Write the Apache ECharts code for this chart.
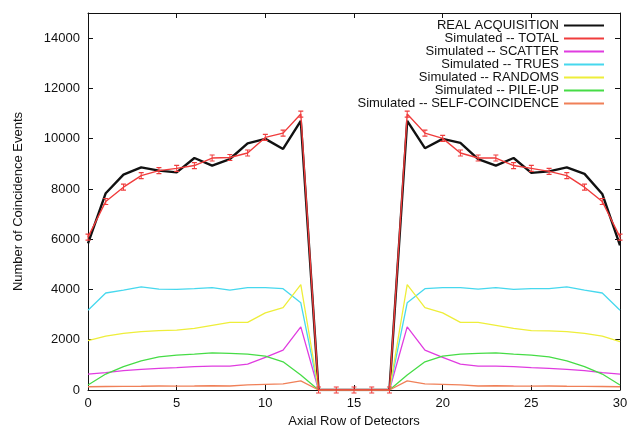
<!DOCTYPE html>
<html>
<head>
<meta charset="utf-8">
<script src="https://cdn.jsdelivr.net/npm/echarts@6/dist/echarts.min.js"></script>
<style>
html,body{margin:0;padding:0;background:#fff;}
#chart{width:631px;height:427px;}
</style>
</head>
<body>
<div id="chart"></div>
<script>
var axialRows = [0,1,2,3,4,5,6,7,8,9,10,11,12,13,14,15,16,17,18,19,20,21,22,23,24,25,26,27,28,29,30];
var realAcquisition = [5830,7830,8570,8860,8730,8660,9230,8930,9190,9810,9990,9590,10710,0,0,0,0,0,10710,9620,9990,9830,9190,8930,9230,8640,8700,8860,8600,7800,5750];
var simTotal = [6085,7500,8070,8530,8730,8820,8930,9230,9250,9430,10050,10220,10980,0,0,0,0,0,10980,10220,10010,9430,9230,9230,8930,8820,8700,8530,8070,7500,6085];
var simScatter = [635,690,770,820,860,890,930,950,950,1030,1300,1590,2510,0,0,0,0,0,2510,1590,1300,1030,950,950,930,890,860,820,770,690,635];
var simTrues = [3170,3860,3970,4100,4010,4000,4030,4070,3970,4070,4070,4030,3470,0,0,0,0,0,3470,4030,4070,4070,4010,4070,4000,4030,4030,4100,3970,3860,3170];
var simRandoms = [1960,2140,2250,2320,2360,2380,2450,2570,2690,2690,3070,3280,4190,0,0,0,0,0,4190,3280,3070,2690,2690,2570,2450,2360,2350,2320,2250,2140,1920];
var simPileUp = [200,635,930,1160,1320,1390,1430,1480,1455,1430,1350,1120,595,0,0,0,0,0,595,1120,1350,1430,1455,1480,1430,1390,1320,1160,930,635,200];
var simSelfCoinc = [130,140,145,150,160,155,160,170,160,200,225,240,360,0,0,0,0,0,360,240,225,200,160,170,160,155,160,150,145,140,130];
var yTicks = [0,2000,4000,6000,8000,10000,12000,14000];
var xTicks = [0,5,10,15,20,25,30];

function pairs(vals){ return axialRows.map(function(x,i){ return [x, vals[i]]; }); }

var FONT = 'Liberation Sans, Arial, Helvetica, sans-serif';
var seriesDefs = [
  {name:'REAL ACQUISITION', data:realAcquisition, color:'#111111', width:2.4},
  {name:'Simulated -- TOTAL', data:simTotal, color:'#f03c3c', width:1.4, err:true},
  {name:'Simulated -- SCATTER', data:simScatter, color:'#e03ce0', width:1.3},
  {name:'Simulated -- TRUES', data:simTrues, color:'#46d8ee', width:1.3},
  {name:'Simulated -- RANDOMS', data:simRandoms, color:'#eeee3a', width:1.3},
  {name:'Simulated -- PILE-UP', data:simPileUp, color:'#46dc46', width:1.3},
  {name:'Simulated -- SELF-COINCIDENCE', data:simSelfCoinc, color:'#f08058', width:1.3}
];

var series = seriesDefs.map(function(d){
  var s = {
    name:d.name, type:'line', data:pairs(d.data),
    lineStyle:{color:d.color, width:d.width},
    itemStyle:{color:d.color},
    symbol:'none', animation:false, z: d.err ? 3 : 2
  };
  if (d.err) {
    s.symbol = 'path://M0,0H6M3,0V8M0,8H6';
    s.symbolSize = [5,6];
    s.showSymbol = true;
    s.itemStyle = {color:'rgba(0,0,0,0)', borderColor:d.color, borderWidth:1.1};
  }
  return s;
});

var chart = echarts.init(document.getElementById('chart'), null, {renderer:'canvas'});
chart.setOption({
  animation:false,
  backgroundColor:'#ffffff',
  grid:{left:88, right:11, top:13, bottom:37, containLabel:false, outerBoundsMode:'none'},
  legend:{
    orient:'vertical', right:27, top:19, align:'right', padding:0,
    itemWidth:40, itemHeight:12.7, itemGap:0,
    textStyle:{fontFamily:FONT, fontSize:13, color:'#111', lineHeight:12.7},
    data: seriesDefs.map(function(d){
      return {name:d.name, icon:'path://M0,0H40V1.8H0Z', itemStyle:{color:d.color, borderWidth:0}};
    })
  },
  xAxis:[{
    type:'value', min:0, max:30, interval:5,
    name:'Axial Row of Detectors', nameLocation:'middle', nameGap:25,
    nameTextStyle:{fontFamily:FONT, fontSize:13, color:'#111'},
    axisLine:{show:true, onZero:false, lineStyle:{color:'#111', width:1}},
    axisTick:{show:true, inside:true, length:5, lineStyle:{color:'#111'}},
    axisLabel:{fontFamily:FONT, fontSize:13, color:'#111', margin:7,
      formatter:function(v){ return xTicks.indexOf(v) >= 0 ? String(v) : ''; }},
    splitLine:{show:false}
  },{
    type:'value', position:'top', min:0, max:30, interval:5,
    axisLine:{show:true, onZero:false, lineStyle:{color:'#111', width:1}},
    axisTick:{show:true, inside:true, length:5, lineStyle:{color:'#111'}},
    axisLabel:{show:false}, splitLine:{show:false}
  }],
  yAxis:[{
    type:'value', min:0, max:15000, interval:2000,
    name:'Number of Coincidence Events', nameLocation:'middle', nameGap:63,
    nameTextStyle:{fontFamily:FONT, fontSize:13, color:'#111'},
    axisLine:{show:true, onZero:false, lineStyle:{color:'#111', width:1}},
    axisTick:{show:true, inside:true, length:5, lineStyle:{color:'#111'}},
    axisLabel:{fontFamily:FONT, fontSize:13, color:'#111', margin:8, showMaxLabel:false,
      formatter:function(v){ return yTicks.indexOf(v) >= 0 ? String(v) : ''; }},
    splitLine:{show:false}
  },{
    type:'value', position:'right', min:0, max:15000, interval:2000,
    axisLine:{show:true, onZero:false, lineStyle:{color:'#111', width:1}},
    axisTick:{show:true, inside:true, length:5, lineStyle:{color:'#111'}},
    axisLabel:{show:false}, splitLine:{show:false}
  }],
  series: series
});
</script>
</body>
</html>
